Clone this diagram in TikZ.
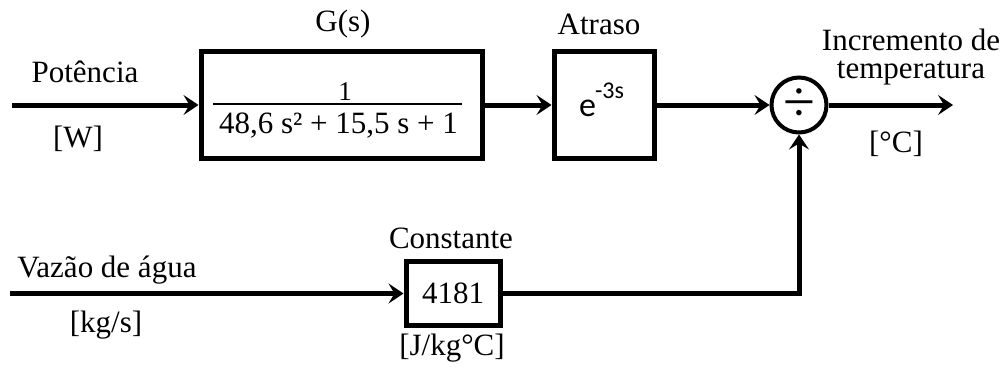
\documentclass[tikz,border=0pt]{standalone}
\usepackage{fontspec}
\setmainfont{Liberation Serif}
\newfontfamily\carl{Carlito}
\usetikzlibrary{arrows.meta}
\begin{document}
\begin{tikzpicture}[x=1pt,y=-1pt,
  blk/.style={draw,line width=5pt,inner sep=0pt,font=\fontsize{31}{34}\selectfont},
  conn/.style={line width=5pt},
  arr/.style={conn,-{Stealth[length=15pt,width=20pt,inset=6pt]}},
  lbl/.style={inner sep=0pt,anchor=base,font=\fontsize{31}{34}\selectfont}]
\useasboundingbox (0,0) rectangle (1007,369);
% blocks
\node[blk,minimum width=281pt,minimum height=107pt] (G) at (341.5,105) {};
\node[blk,minimum width=100pt,minimum height=107pt] (D) at (604,105) {};
\node[draw,circle,line width=4pt,minimum size=55pt,inner sep=0pt] (S) at (799,105) {};
\node[blk,minimum width=94pt,minimum height=64pt] (K) at (453,293.5) {4181};
% contents
\node[lbl,font=\fontsize{27}{28}\selectfont] (num) at (345,100) {1};
\draw[line width=1.5pt] (213,104) -- (462,104);
\node[lbl] (den) at (338.5,133) {48,6 s² + 15,5 s + 1};
\node[lbl,font=\carl\fontsize{34}{34}\selectfont] (e) at (601.5,117) {e\kern-1pt\raisebox{18pt}{\fontsize{24}{24}\selectfont -3s}};
\node[inner sep=0pt,font=\fontsize{58}{58}\selectfont] (dv) at (S.center) {÷};
% connectors
\coordinate (in1) at (12,105);
\coordinate (in2) at (10,293.5);
\coordinate (out) at (953,105);
\draw[arr] (in1) -- (G.west);
\draw[arr] (G.east) -- (D.west);
\draw[arr] (D.east) -- (S.west);
\draw[arr] (S.east) -- (out);
\draw[arr] (in2) -- (K.west);
\draw[arr] (K.east) -| (S.south);
% labels
\node[lbl] (lg) at (343,32) {G(s)};
\node[lbl] (lp) at (85,82) {Potência};
\node[lbl] (lw) at (78,147) {[W]};
\node[lbl] (la) at (599,35) {Atraso};
\node[inner sep=0pt,anchor=north,align=center,font=\fontsize{31}{28.5}\selectfont] (li) at (911,28.5) {Incremento de\\temperatura};
\node[lbl] (lc) at (896,152) {[°C]};
\node[lbl] (lv) at (107,277) {Vazão de água};
\node[lbl] (lk) at (106,332) {[kg/s]};
\node[lbl] (lco) at (451,248) {Constante};
\node[lbl] (lj) at (452,355) {[J/kg°C]};
\end{tikzpicture}
\end{document}
